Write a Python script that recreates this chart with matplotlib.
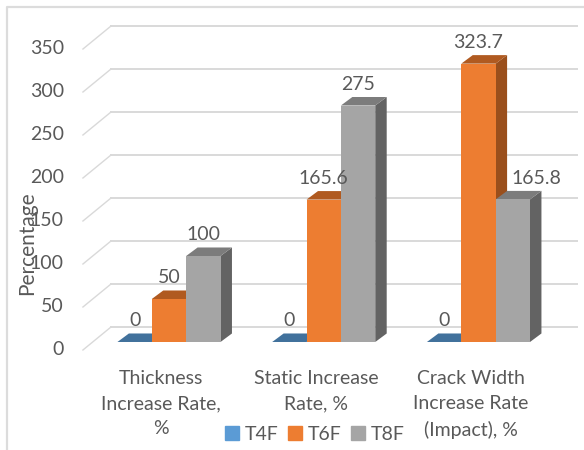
# Rate increase by temper - 3D style clustered columns

import matplotlib
matplotlib.use('Agg')
import matplotlib.pyplot as plt
from matplotlib.lines import Line2D
from matplotlib.patches import Patch, Polygon

plt.rcParams['font.family'] = ['Lato', 'DejaVu Sans']

# Data
categories = ['Thickness\nIncrease Rate,\n%', 'Static Increase\nRate, %',
              'Crack Width\nIncrease Rate\n(Impact), %']
series_names = ['T4F', 'T6F', 'T8F']
t4f = [0, 0, 0]
t6f = [50, 165.6, 323.7]
t8f = [100, 275, 165.8]
y_ticks = [0, 50, 100, 150, 200, 250, 300, 350]

front_colors = ['#4a7ba6', '#ed7d31', '#a5a5a5']
legend_colors = ['#5b9bd5', '#ed7d31', '#a5a5a5']
top_colors = ['#41719c', '#b05a20', '#7c7c7c']
side_colors = ['#35608a', '#9a4f1c', '#636363']
text_color = '#595959'

fig = plt.figure(figsize=(5.84, 4.5), dpi=100)
ax = fig.add_axes([0, 0, 1, 1])
ax.set_xlim(-1.092, 2.682)
ax.set_ylim(-125.6, 397.7)
ax.axis('off')

bar_w = 0.222
depth_x = 0.074
depth_y = 9.9

# outer chart frame (only top and left show in the crop)
fig.add_artist(Line2D([6.5 / 584, 6.5 / 584, 1], [0, 1 - 6.5 / 450, 1 - 6.5 / 450],
                      color='#dcdcdc', lw=1.6))

# back wall gridlines and the slanted floor/wall lines
for v in y_ticks:
    ax.plot([-0.375, 2.637], [v + 17.4, v + 17.4], color='#d9d9d9', lw=1.4, zorder=1)
    ax.plot([-0.556, -0.375], [v - 9.3, v + 17.4], color='#d9d9d9', lw=1.0, zorder=1)
    ax.text(-0.68, v - 9, str(v), ha='right', va='center', fontsize=14, color=text_color)

# columns, left to right so each one covers the side of the last
for i, vals in enumerate([t4f, t6f, t8f]):
    for j, v in enumerate(vals):
        x0 = j + (i - 1) * bar_w - bar_w / 2
        x1 = x0 + bar_w
        side = Polygon([(x1, 0), (x1 + depth_x, depth_y), (x1 + depth_x, v + depth_y), (x1, v)],
                       facecolor=side_colors[i], zorder=2 + i)
        top = Polygon([(x0, v), (x0 + depth_x, v + depth_y), (x1 + depth_x, v + depth_y), (x1, v)],
                      facecolor=top_colors[i], zorder=2 + i)
        ax.add_patch(side)
        ax.add_patch(top)
        ax.bar(x0, v, width=bar_w, align='edge', color=front_colors[i], zorder=2 + i)

# value labels, the last one was moved aside in the original
label_shift = {(2, 2): 0.155}
for i, vals in enumerate([t4f, t6f, t8f]):
    for j, v in enumerate(vals):
        x = j + (i - 1) * bar_w + label_shift.get((i, j), 0)
        ax.text(x, v + 24.5, f'{v:g}', ha='center', va='center', fontsize=14,
                color=text_color, zorder=10)

# category labels
for j, name in enumerate(categories):
    ax.text(j - 0.05, -32, name, ha='center', va='top', fontsize=14, color=text_color,
            linespacing=1.6, zorder=10)

ax.text(-0.915, 115, 'Percentage', rotation=90, ha='center', va='center', fontsize=15,
        color=text_color, zorder=10)

handles = [Patch(color=c, label=n) for c, n in zip(legend_colors, series_names)]
ax.legend(handles=handles, ncol=3, frameon=False, loc='center', fontsize=14,
          bbox_to_anchor=(315 / 584, 1 - 434 / 450), labelcolor=text_color,
          handlelength=0.7, handleheight=0.7, handletextpad=0.3, columnspacing=0.5,
          borderpad=0, borderaxespad=0)

fig.savefig('out.png', dpi=100)
